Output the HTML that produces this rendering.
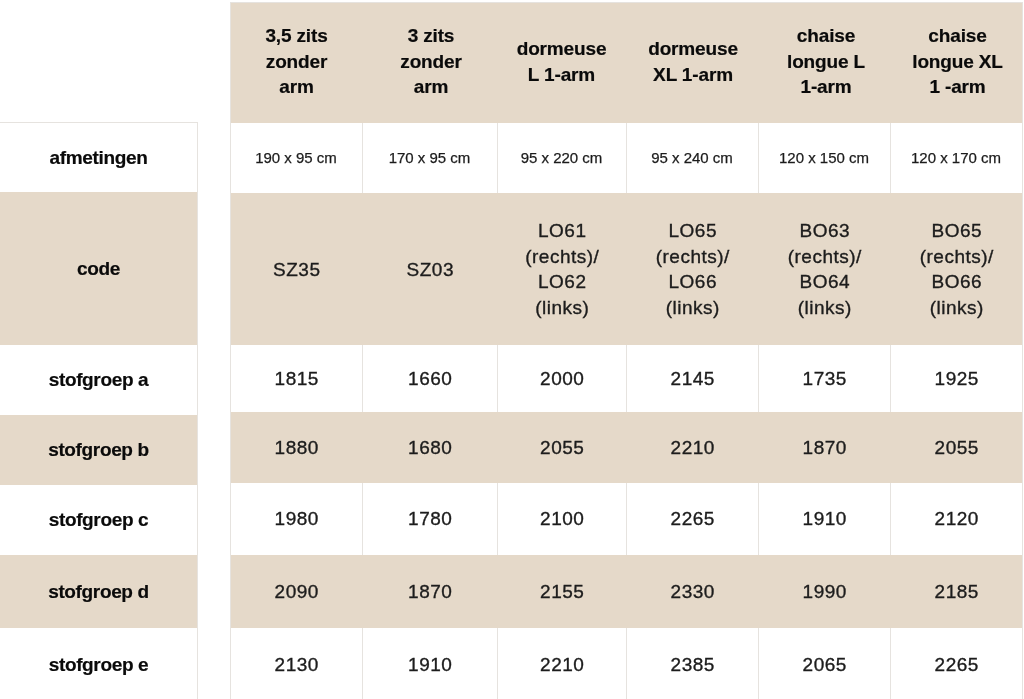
<!DOCTYPE html>
<html><head><meta charset="utf-8"><style>
html,body{margin:0;padding:0;background:#fff;}
body{width:1024px;height:699px;overflow:hidden;position:relative;-webkit-font-smoothing:antialiased;font-family:"Liberation Sans",sans-serif;}
.c{position:absolute;will-change:transform;display:flex;align-items:center;justify-content:center;text-align:center;box-sizing:border-box;}
.b{background:#e5d9c9;}
.h{font-weight:bold;font-size:19px;line-height:25.5px;color:#0a0a0a;padding-bottom:2px;letter-spacing:-0.15px;-webkit-text-stroke:0.2px #0a0a0a;}
.l{font-weight:bold;font-size:19px;line-height:25.5px;color:#0a0a0a;letter-spacing:-0.35px;-webkit-text-stroke:0.2px #0a0a0a;}
.d{font-size:19px;line-height:25.5px;color:#1c1c1c;letter-spacing:0.5px;padding-left:1.5px;-webkit-text-stroke:0.35px #1c1c1c;}
.s{font-size:15px;line-height:20px;color:#1c1c1c;-webkit-text-stroke:0.25px #1c1c1c;}
.vl{position:absolute;width:1px;background:#e6e3df;}
.hl{position:absolute;height:1px;background:#e6e3df;}
</style></head><body>

<div class="c b" style="left:230px;top:2px;width:792px;height:121px"></div>
<div class="c h" style="left:230px;top:2px;width:132px;height:121px;padding-left:1px"><div>3,5 zits<br>zonder<br>arm</div></div>
<div class="c h" style="left:362px;top:2px;width:135px;height:121px;padding-left:3px"><div>3 zits<br>zonder<br>arm</div></div>
<div class="c h" style="left:497px;top:2px;width:129px;height:121px;padding-left:0px"><div>dormeuse<br>L 1-arm</div></div>
<div class="c h" style="left:626px;top:2px;width:132px;height:121px;padding-left:2px"><div>dormeuse<br>XL 1-arm</div></div>
<div class="c h" style="left:758px;top:2px;width:132px;height:121px;padding-left:4px"><div>chaise<br>longue L<br>1-arm</div></div>
<div class="c h" style="left:890px;top:2px;width:132px;height:121px;padding-left:3px"><div>chaise<br>longue XL<br>1 -arm</div></div>
<div class="c s" style="left:230px;top:123px;width:132px;height:70px;"><div>190 x 95 cm</div></div>
<div class="c s" style="left:362px;top:123px;width:135px;height:70px;"><div>170 x 95 cm</div></div>
<div class="c s" style="left:497px;top:123px;width:129px;height:70px;"><div>95 x 220 cm</div></div>
<div class="c s" style="left:626px;top:123px;width:132px;height:70px;"><div>95 x 240 cm</div></div>
<div class="c s" style="left:758px;top:123px;width:132px;height:70px;"><div>120 x 150 cm</div></div>
<div class="c s" style="left:890px;top:123px;width:132px;height:70px;"><div>120 x 170 cm</div></div>
<div class="c b" style="left:230px;top:193px;width:792px;height:152px"></div>
<div class="c d" style="left:230px;top:193px;width:132px;height:152px;padding-top:2px;"><div>SZ35</div></div>
<div class="c d" style="left:362px;top:193px;width:135px;height:152px;padding-top:2px;"><div>SZ03</div></div>
<div class="c d" style="left:497px;top:193px;width:129px;height:152px;"><div>LO61<br>(rechts)/<br>LO62<br>(links)</div></div>
<div class="c d" style="left:626px;top:193px;width:132px;height:152px;"><div>LO65<br>(rechts)/<br>LO66<br>(links)</div></div>
<div class="c d" style="left:758px;top:193px;width:132px;height:152px;"><div>BO63<br>(rechts)/<br>BO64<br>(links)</div></div>
<div class="c d" style="left:890px;top:193px;width:132px;height:152px;"><div>BO65<br>(rechts)/<br>BO66<br>(links)</div></div>
<div class="c d" style="left:230px;top:345px;width:132px;height:67px;"><div>1815</div></div>
<div class="c d" style="left:362px;top:345px;width:135px;height:67px;"><div>1660</div></div>
<div class="c d" style="left:497px;top:345px;width:129px;height:67px;"><div>2000</div></div>
<div class="c d" style="left:626px;top:345px;width:132px;height:67px;"><div>2145</div></div>
<div class="c d" style="left:758px;top:345px;width:132px;height:67px;"><div>1735</div></div>
<div class="c d" style="left:890px;top:345px;width:132px;height:67px;"><div>1925</div></div>
<div class="c b" style="left:230px;top:412px;width:792px;height:71px"></div>
<div class="c d" style="left:230px;top:412px;width:132px;height:71px;"><div>1880</div></div>
<div class="c d" style="left:362px;top:412px;width:135px;height:71px;"><div>1680</div></div>
<div class="c d" style="left:497px;top:412px;width:129px;height:71px;"><div>2055</div></div>
<div class="c d" style="left:626px;top:412px;width:132px;height:71px;"><div>2210</div></div>
<div class="c d" style="left:758px;top:412px;width:132px;height:71px;"><div>1870</div></div>
<div class="c d" style="left:890px;top:412px;width:132px;height:71px;"><div>2055</div></div>
<div class="c d" style="left:230px;top:483px;width:132px;height:72px;"><div>1980</div></div>
<div class="c d" style="left:362px;top:483px;width:135px;height:72px;"><div>1780</div></div>
<div class="c d" style="left:497px;top:483px;width:129px;height:72px;"><div>2100</div></div>
<div class="c d" style="left:626px;top:483px;width:132px;height:72px;"><div>2265</div></div>
<div class="c d" style="left:758px;top:483px;width:132px;height:72px;"><div>1910</div></div>
<div class="c d" style="left:890px;top:483px;width:132px;height:72px;"><div>2120</div></div>
<div class="c b" style="left:230px;top:555px;width:792px;height:73px"></div>
<div class="c d" style="left:230px;top:555px;width:132px;height:73px;"><div>2090</div></div>
<div class="c d" style="left:362px;top:555px;width:135px;height:73px;"><div>1870</div></div>
<div class="c d" style="left:497px;top:555px;width:129px;height:73px;"><div>2155</div></div>
<div class="c d" style="left:626px;top:555px;width:132px;height:73px;"><div>2330</div></div>
<div class="c d" style="left:758px;top:555px;width:132px;height:73px;"><div>1990</div></div>
<div class="c d" style="left:890px;top:555px;width:132px;height:73px;"><div>2185</div></div>
<div class="c d" style="left:230px;top:628px;width:132px;height:73px;"><div>2130</div></div>
<div class="c d" style="left:362px;top:628px;width:135px;height:73px;"><div>1910</div></div>
<div class="c d" style="left:497px;top:628px;width:129px;height:73px;"><div>2210</div></div>
<div class="c d" style="left:626px;top:628px;width:132px;height:73px;"><div>2385</div></div>
<div class="c d" style="left:758px;top:628px;width:132px;height:73px;"><div>2065</div></div>
<div class="c d" style="left:890px;top:628px;width:132px;height:73px;"><div>2265</div></div>
<div class="c l" style="left:0;top:123px;width:197px;height:69px"><div>afmetingen</div></div>
<div class="c l b" style="left:0;top:192px;width:197px;height:153px"><div>code</div></div>
<div class="c l" style="left:0;top:345px;width:197px;height:70px"><div>stofgroep a</div></div>
<div class="c l b" style="left:0;top:415px;width:197px;height:70px"><div>stofgroep b</div></div>
<div class="c l" style="left:0;top:485px;width:197px;height:70px"><div>stofgroep c</div></div>
<div class="c l b" style="left:0;top:555px;width:197px;height:73px"><div>stofgroep d</div></div>
<div class="c l" style="left:0;top:628px;width:197px;height:73px"><div>stofgroep e</div></div>
<div class="hl" style="left:0;top:122px;width:198px"></div>
<div class="vl" style="left:197px;top:122px;height:600px"></div>
<div class="vl" style="left:230px;top:2px;height:700px"></div>
<div class="hl" style="left:230px;top:2px;width:793px"></div>
<div class="vl" style="left:1022px;top:2px;height:700px"></div>
<div class="vl" style="left:362px;top:123px;height:70px"></div>
<div class="vl" style="left:497px;top:123px;height:70px"></div>
<div class="vl" style="left:626px;top:123px;height:70px"></div>
<div class="vl" style="left:758px;top:123px;height:70px"></div>
<div class="vl" style="left:890px;top:123px;height:70px"></div>
<div class="vl" style="left:362px;top:345px;height:67px"></div>
<div class="vl" style="left:497px;top:345px;height:67px"></div>
<div class="vl" style="left:626px;top:345px;height:67px"></div>
<div class="vl" style="left:758px;top:345px;height:67px"></div>
<div class="vl" style="left:890px;top:345px;height:67px"></div>
<div class="vl" style="left:362px;top:483px;height:72px"></div>
<div class="vl" style="left:497px;top:483px;height:72px"></div>
<div class="vl" style="left:626px;top:483px;height:72px"></div>
<div class="vl" style="left:758px;top:483px;height:72px"></div>
<div class="vl" style="left:890px;top:483px;height:72px"></div>
<div class="vl" style="left:362px;top:628px;height:73px"></div>
<div class="vl" style="left:497px;top:628px;height:73px"></div>
<div class="vl" style="left:626px;top:628px;height:73px"></div>
<div class="vl" style="left:758px;top:628px;height:73px"></div>
<div class="vl" style="left:890px;top:628px;height:73px"></div>
</body></html>
